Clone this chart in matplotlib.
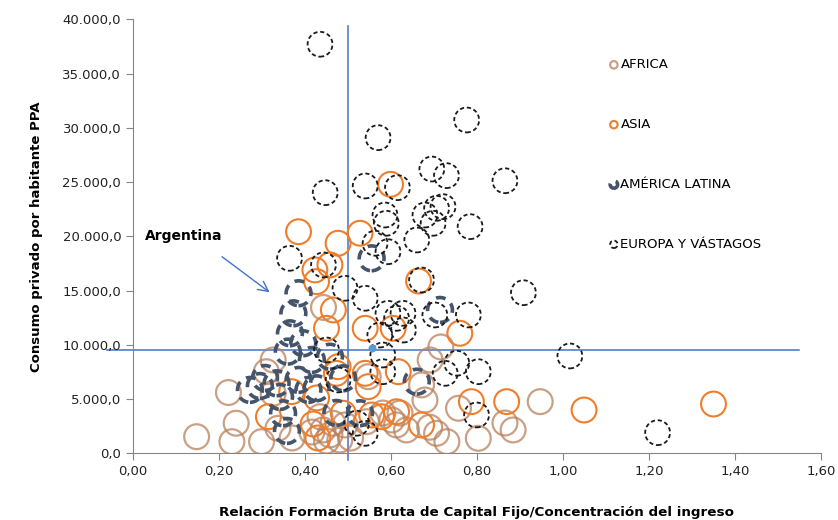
import numpy as np
import matplotlib
matplotlib.use("Agg")
import matplotlib.pyplot as plt
from matplotlib.ticker import FuncFormatter

# --- data ---
africa_x = [0.148, 0.230, 0.240, 0.222, 0.299, 0.326, 0.310, 0.326, 0.337, 0.443,
            0.435, 0.442, 0.458, 0.450, 0.481, 0.416, 0.493, 0.543, 0.581, 0.602,
            0.621, 0.636, 0.613, 0.679, 0.691, 0.706, 0.716, 0.730, 0.757, 0.803,
            0.865, 0.884, 0.947, 0.547, 0.671, 0.506, 0.465, 0.370, 0.690]
africa_y = [1530, 1070, 2770, 5600, 1070, 8600, 7520, 5530, 2300, 13440,
            3370, 2150, 1690, 1130, 1220, 1960, 2610, 2910, 3710, 3070,
            3710, 2150, 2610, 4910, 8600, 1840, 9800, 1070, 4150, 1380,
            2790, 2150, 4760, 7060, 6300, 1400, 2770, 1410, 2400]

asia_x = [0.385, 0.477, 0.528, 0.423, 0.458, 0.427, 0.466, 0.450, 0.540, 0.599,
          0.664, 0.760, 0.605, 0.477, 0.540, 0.369, 0.427, 0.315, 0.419, 0.489,
          0.555, 0.547, 0.578, 0.613, 0.617, 0.671, 0.787, 0.869, 1.049, 1.350,
          0.473, 0.430]
asia_y = [20420, 19360, 20280, 16900, 17360, 15820, 13210, 11520, 11520, 24790,
          15880, 11060, 11520, 7980, 7370, 5680, 5100, 3370, 2700, 3690,
          3530, 6140, 3370, 3830, 7520, 2610, 4760, 4760, 3990, 4540,
          7370, 1410]

latam_x = [0.385, 0.373, 0.365, 0.396, 0.360, 0.416, 0.458, 0.295, 0.334, 0.385,
           0.342, 0.427, 0.349, 0.358, 0.473, 0.555, 0.714, 0.660, 0.528, 0.489,
           0.272, 0.408, 0.307]
latam_y = [14750, 12900, 11060, 10140, 9370, 8600, 8900, 6200, 6450, 6760,
           5190, 5990, 3690, 2060, 3720, 17970, 13210, 6600, 3690, 6910,
           5840, 5840, 6940]

europa_x = [0.435, 0.570, 0.776, 0.447, 0.540, 0.615, 0.695, 0.729, 0.865, 0.679,
            0.706, 0.721, 0.698, 0.784, 0.660, 0.586, 0.589, 0.563, 0.593, 0.671,
            0.908, 0.702, 0.780, 0.540, 0.593, 0.613, 0.629, 0.574, 0.581, 0.581,
            0.726, 0.753, 0.803, 0.799, 1.016, 1.220, 0.364, 0.443, 0.493, 0.450,
            0.477, 0.520, 0.540, 0.628]
europa_y = [37700, 29090, 30720, 24020, 24640, 24480, 26200, 25590, 25120, 21960,
            22580, 22730, 21200, 20890, 19660, 21960, 21200, 19360, 18580, 15970,
            14800, 12750, 12750, 14290, 12900, 12440, 11360, 10900, 9060, 7520,
            7370, 8300, 7520, 3530, 8970, 1900, 17970, 17360, 15210, 9520,
            6760, 2770, 1840, 12900]

argentina_point = (0.556, 9680)
ref_x = 0.50
ref_y = 9500

labels = ["AFRICA", "ASIA", "AMÉRICA LATINA", "EUROPA Y VÁSTAGOS"]

plt.rcParams['font.family'] = ['DejaVu Sans']
plt.rcParams['lines.scale_dashes'] = False

fig = plt.figure(figsize=(8.38, 5.20), dpi=100)
ax = fig.add_axes([0.1587, 0.1283, 0.821, 0.8346])

S = 320
ax.scatter(africa_x, africa_y, s=S, facecolors='none', edgecolors='#B8815C',
           linewidths=1.6, alpha=0.75, label=labels[0], zorder=2)
ax.scatter(asia_x, asia_y, s=S, facecolors='none', edgecolors='#F07D2A',
           linewidths=1.5, label=labels[1], zorder=3)
ax.scatter(latam_x, latam_y, s=S, facecolors='none', edgecolors='#44546A',
           linewidths=2.6, linestyles=(0, (7, 5)), label=labels[2], zorder=4)
ax.scatter(europa_x, europa_y, s=S, facecolors='none', edgecolors='#1a1a1a',
           linewidths=1.3, linestyles=(0, (3, 2)), label=labels[3], zorder=5)

ax.scatter([argentina_point[0]], [argentina_point[1]], s=22, color='#5B9BD5', zorder=6)

# reference lines
ax.plot([-0.06, 1.55], [ref_y, ref_y], color='#4472C4', lw=1.1, clip_on=False, zorder=1)
ax.plot([ref_x, ref_x], [-600, 39400], color='#4472C4', lw=1.1, clip_on=False, zorder=1)

# Argentina annotation
ax.text(0.028, 20030, "Argentina", fontsize=10, fontweight='bold', va='center', ha='left')
ax.annotate("", xy=(0.323, 14680), xytext=(0.202, 18270),
            arrowprops=dict(arrowstyle='->', color='#4472C4', lw=1.0, mutation_scale=18))

ax.set_xlim(0, 1.6)
ax.set_ylim(0, 40000)
ax.set_xticks(np.arange(0, 1.61, 0.2))
ax.set_yticks(np.arange(0, 40001, 5000))
ax.xaxis.set_major_formatter(FuncFormatter(lambda v, p: f"{v:.2f}".replace('.', ',')))
ax.yaxis.set_major_formatter(FuncFormatter(
    lambda v, p: f"{v:,.1f}".replace(',', 'X').replace('.', ',').replace('X', '.')))

for s in ['top', 'right']:
    ax.spines[s].set_visible(False)
for s in ['left', 'bottom']:
    ax.spines[s].set_color('#868686')
ax.tick_params(axis='both', colors='#868686', labelcolor='#222222', labelsize=9.5,
               length=5, direction='out')

ax.set_xlabel("Relación Formación Bruta de Capital Fijo/Concentración del ingreso",
              fontsize=9.7, fontweight='bold', labelpad=20)
ax.set_ylabel("Consumo privado por habitante PPA", fontsize=9.5, fontweight='bold', labelpad=14)

leg = ax.legend(loc='upper left', bbox_to_anchor=(602 / 838, 1 - 53 / 520),
                bbox_transform=fig.transFigure, frameon=False, markerscale=0.3,
                labelspacing=3.55, handletextpad=0.0, handlelength=1.0, fontsize=9.5,
                borderaxespad=0)

fig.savefig("out.png", dpi=100)
